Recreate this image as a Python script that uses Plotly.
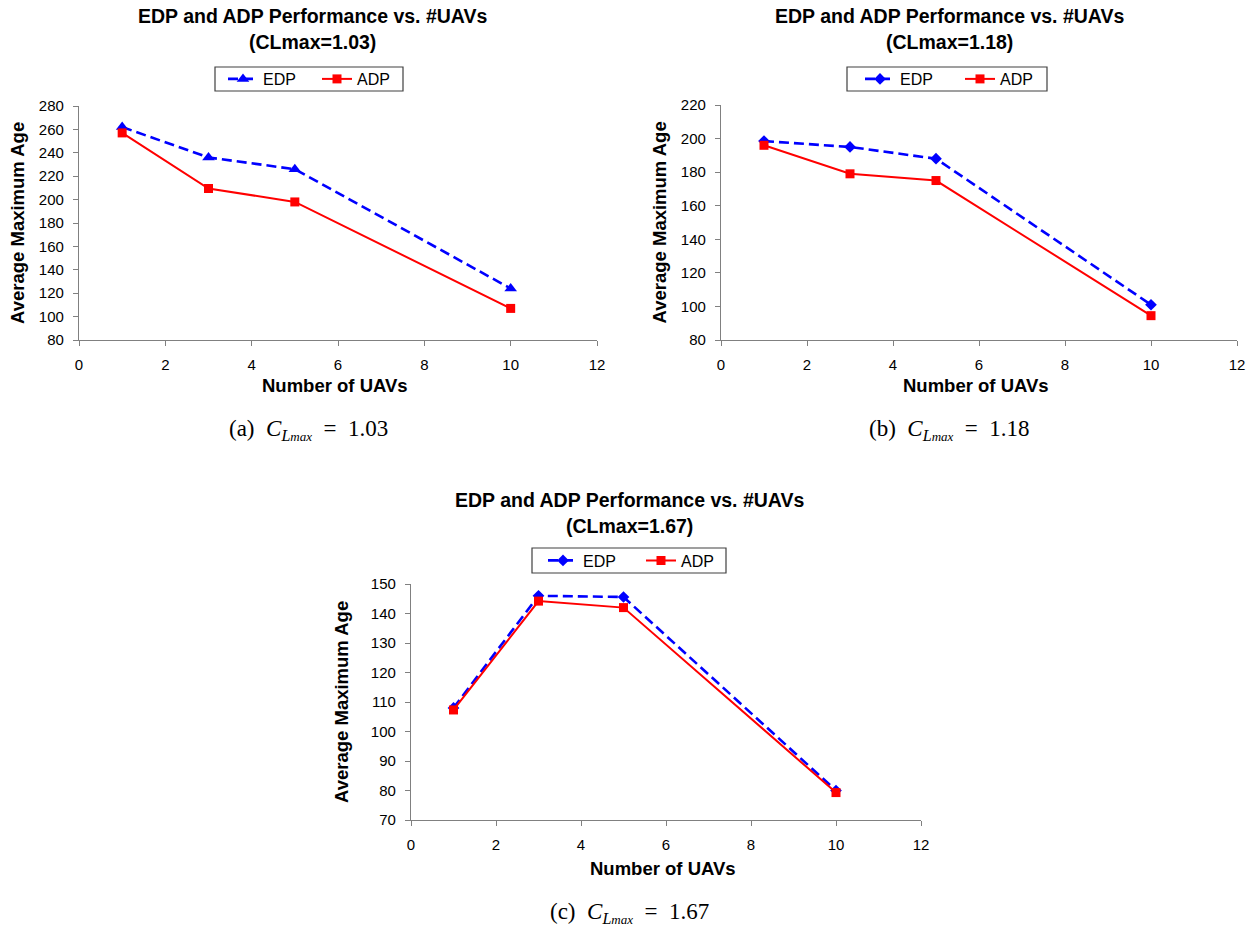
import plotly.graph_objects as go

W, H = 1249, 930

# ---- data ----
uavs = [1, 3, 5, 10]
edp_103 = [262, 236, 226, 124]
adp_103 = [257, 209.5, 198, 107]
edp_118 = [198.5, 195, 188, 101]
adp_118 = [196, 179, 175, 94.5]
edp_167 = [108, 146, 145.6, 80]
adp_167 = [107.3, 144.2, 142, 79.3]

titles = ["EDP and ADP Performance vs. #UAVs"] * 3
subtitles = ["(CLmax=1.03)", "(CLmax=1.18)", "(CLmax=1.67)"]
captions = ["(a)", "(b)", "(c)"]
clvals = ["1.03", "1.18", "1.67"]
yranges = [[80, 280], [80, 220], [70, 150]]
ydticks = [20, 20, 10]
xlabel = "Number of UAVs"
ylabel = "Average Maximum Age"

# ---- layout geometry (pixels) ----
# plot boxes: (x0, x1, ytop, ybottom)
boxes = [(79, 597, 106, 340), (721, 1237, 105, 340), (411, 921, 584, 820)]
title_cx = [312, 949, 629]
title_y = [(16, 42), (16, 42), (500, 526)]
# legend frame (x0, x1, y0, y1) and first text x
legend_box = [(215, 403, 67, 91), (847, 1047, 67, 91), (532, 726, 548, 573)]
legend_text_x = [263, 900, 583]
legend_entry = [49, 55, 53]
caption_pos = [(308, 430), (949, 430), (629, 913)]
ytitle_x = [18, 659, 341]
xtitle_y = [385, 385, 868]

FONT = "Arial, Liberation Sans, sans-serif"
BLUE = "#0000FF"
RED = "#FF0000"
edp_symbols = ["triangle-up", "diamond", "diamond"]

def px(x):
    return x / W

def py(y):
    return 1 - y / H

series = [(edp_103, adp_103), (edp_118, adp_118), (edp_167, adp_167)]

fig = go.Figure()
layout = dict(
    width=W, height=H,
    margin=dict(l=0, r=0, t=0, b=0),
    paper_bgcolor="white", plot_bgcolor="white",
    font=dict(family=FONT, color="black"),
    showlegend=True,
)
annotations = []
shapes = []
NB = "\u00a0"

for i in range(3):
    x0, x1, yt, yb = boxes[i]
    sfx = "" if i == 0 else str(i + 1)
    lg = "legend" if i == 0 else "legend" + str(i + 1)
    edp, adp = series[i]
    fig.add_trace(go.Scatter(
        x=uavs, y=edp, name="EDP", mode="lines+markers",
        xaxis="x" + sfx, yaxis="y" + sfx, legend=lg,
        line=dict(color=BLUE, width=2.6, dash="10px,5px"),
        marker=dict(symbol=edp_symbols[i], size=11 if i == 0 else 9, color=BLUE),
    ))
    fig.add_trace(go.Scatter(
        x=uavs, y=adp, name="ADP", mode="lines+markers",
        xaxis="x" + sfx, yaxis="y" + sfx, legend=lg,
        line=dict(color=RED, width=2),
        marker=dict(symbol="square", size=9, color=RED),
    ))
    axcommon = dict(
        showline=True, linecolor="#808080", linewidth=1.2,
        ticks="outside", ticklen=5, tickcolor="#808080", tickwidth=1.2,
        showgrid=False, zeroline=False, automargin=False,
        ticklabelstandoff=6,
        tickfont=dict(family=FONT, size=15, color="black"),
    )
    layout["xaxis" + sfx] = dict(
        domain=[px(x0), px(x1)], anchor="y" + sfx, range=[0, 12], dtick=2, tick0=0,
        **axcommon)
    layout["yaxis" + sfx] = dict(
        domain=[py(yb), py(yt)], anchor="x" + sfx, range=yranges[i], dtick=ydticks[i],
        tick0=yranges[i][0], **axcommon)
    bx0, bx1, by0, by1 = legend_box[i]
    layout[lg] = dict(
        orientation="h", x=px(legend_text_x[i] - 40), y=py((by0 + by1) / 2 - 17),
        xanchor="left", yanchor="top",
        xref="paper", yref="paper",
        borderwidth=0, bgcolor="rgba(0,0,0,0)",
        font=dict(family=FONT, size=16, color="black"),
        entrywidth=legend_entry[i], itemwidth=30,
    )
    shapes.append(dict(type="rect", xref="paper", yref="paper",
                       x0=px(bx0), x1=px(bx1), y0=py(by1), y1=py(by0),
                       line=dict(color="#404040", width=1.2), layer="below"))
    # titles
    for txt, yy in ((titles[i], title_y[i][0]), (subtitles[i], title_y[i][1])):
        annotations.append(dict(text="<b>" + txt + "</b>", x=px(title_cx[i]), y=py(yy),
                                xref="paper", yref="paper", showarrow=False,
                                xanchor="center", yanchor="middle",
                                font=dict(family=FONT, size=19.5, color="black")))
    # axis titles
    annotations.append(dict(text="<b>" + xlabel + "</b>", x=px((x0 + x1) / 2 - 3), y=py(xtitle_y[i]),
                            xref="paper", yref="paper", showarrow=False, xanchor="center", yanchor="middle",
                            font=dict(family=FONT, size=18.5, color="black")))
    annotations.append(dict(text="<b>" + ylabel + "</b>", x=px(ytitle_x[i]), y=py((yt + yb) / 2),
                            xref="paper", yref="paper", showarrow=False, xanchor="center", yanchor="middle",
                            textangle=-90, font=dict(family=FONT, size=18.5, color="black")))
    # caption
    cx, cy = caption_pos[i]
    annotations.append(dict(
        text=captions[i] + NB + NB + "<i>C</i><sub><i>L</i><span style='font-size:13px'><i>max</i></span></sub>"
             + NB + NB + "=" + NB + NB + clvals[i],
        x=px(cx), y=py(cy), xref="paper", yref="paper", showarrow=False,
        xanchor="center", yanchor="middle",
        font=dict(family="Liberation Serif, DejaVu Serif, serif", size=23, color="black")))

layout["annotations"] = annotations
layout["shapes"] = shapes
fig.update_layout(**layout)
fig.write_html("out.html")
